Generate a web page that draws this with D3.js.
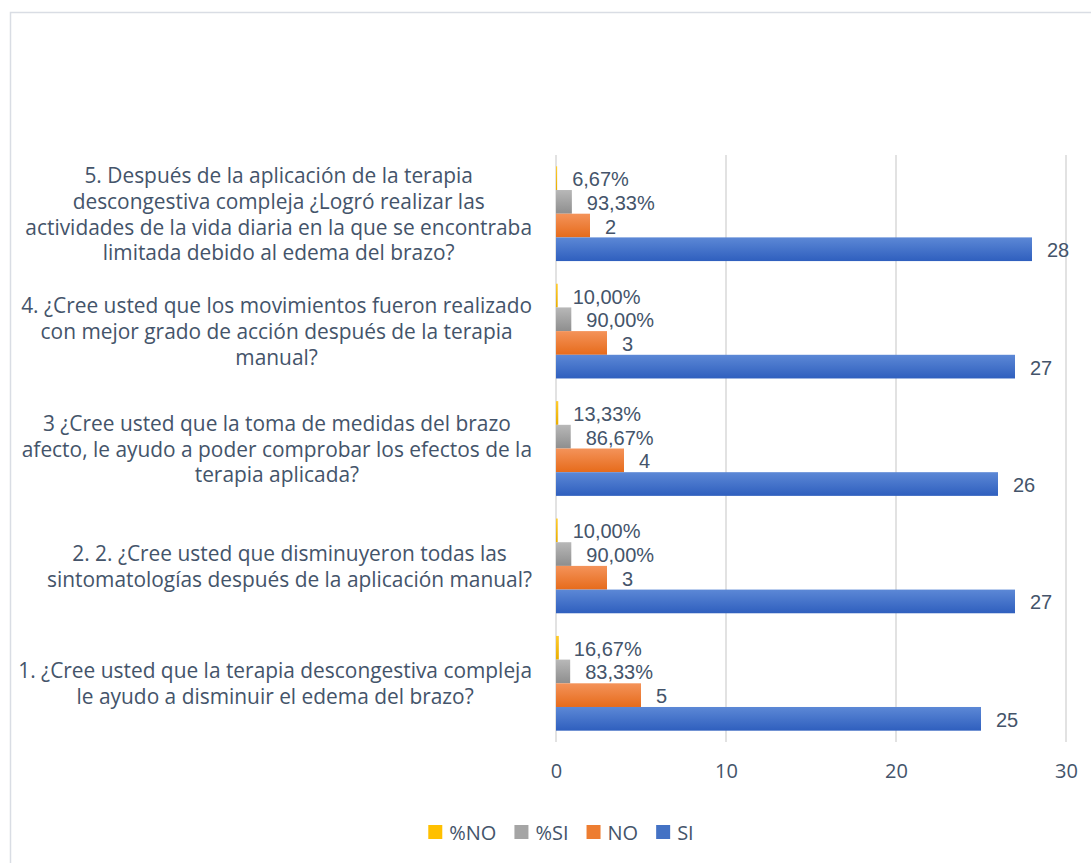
<!DOCTYPE html>
<html><head><meta charset="utf-8">
<script src="https://cdn.jsdelivr.net/npm/d3@7"></script>
<style>
html,body{margin:0;padding:0;background:#fff;}
svg{display:block;}
text{font-family:"Open Sans","Noto Sans",sans-serif;fill:#44546A;}
text.dl{font-family:"Liberation Sans","Arial",sans-serif;}
</style></head><body>
<svg id="chart" width="1091" height="863"></svg>
<script>
const categories = [
  ["5. Después de la aplicación de la terapia","descongestiva compleja ¿Logró realizar las","actividades de la vida diaria en la que se encontraba","limitada debido al edema del brazo?"],
  ["4. ¿Cree usted que los movimientos fueron realizado","con mejor grado de acción después de la terapia","manual?"],
  ["3 ¿Cree usted que la toma de medidas del brazo","afecto, le ayudo a poder comprobar los efectos de la","terapia aplicada?"],
  ["2. 2. ¿Cree usted que disminuyeron todas las","sintomatologías después de la aplicación manual?"],
  ["1. ¿Cree usted que la terapia descongestiva compleja","le ayudo a disminuir el edema del brazo?"]
];
const catKeys = ["5","4","3","2","1"];
const seriesNames = ["%NO","%SI","NO","SI"];
const pctNO = [0.0667, 0.10, 0.1333, 0.10, 0.1667];
const pctSI = [0.9333, 0.90, 0.8667, 0.90, 0.8333];
const valNO = [2, 3, 4, 3, 5];
const valSI = [28, 27, 26, 27, 25];
const xTicks = [0, 10, 20, 30];

const seriesValues = {"%NO": pctNO, "%SI": pctSI, "NO": valNO, "SI": valSI};
const colors = {
  "%NO": ["#ffcb2e", "#e8ad00"],
  "%SI": ["#b8b8b8", "#8e8e8e"],
  "NO":  ["#f4935a", "#e66b1b"],
  "SI":  ["#5c88d6", "#2f5fbe"]
};
const legendColors = {"%NO":"#ffc000","%SI":"#a5a5a5","NO":"#ed7d31","SI":"#4472c4"};
const FS = 20;

const svg = d3.select("#chart");
const defs = svg.append("defs");
seriesNames.forEach((s,i)=>{
  const g = defs.append("linearGradient").attr("id","grad"+i).attr("x1",0).attr("y1",0).attr("x2",0).attr("y2",1);
  g.append("stop").attr("offset","0%").attr("stop-color",colors[s][0]);
  g.append("stop").attr("offset","100%").attr("stop-color",colors[s][1]);
});

// outer border
svg.append("rect").attr("x",10.5).attr("y",12.5).attr("width",1200).attr("height",1000)
  .attr("fill","none").attr("stroke","#d9dde4").attr("stroke-width",1.5);

const x = d3.scaleLinear().domain([0,30]).range([556,1066]);
const y0 = d3.scaleBand().domain(catKeys).range([155,742]).paddingInner(0.193).paddingOuter(0.0965);
const y1 = d3.scaleBand().domain(seriesNames).range([0,y0.bandwidth()]);

// gridlines
svg.append("g").selectAll("line").data(xTicks).join("line")
  .attr("x1",d=>x(d)).attr("x2",d=>x(d)).attr("y1",155).attr("y2",742)
  .attr("stroke","#d9d9d9").attr("stroke-width",1.5);

// x axis labels
const xAxis = d3.axisBottom(x).tickValues(xTicks).tickSize(0).tickPadding(0);
const ax = svg.append("g").attr("transform","translate(0,764)").call(xAxis);
ax.select(".domain").remove();
ax.selectAll("text").attr("font-size",FS).attr("fill","#44546A").style("font-family","Open Sans");

const fmtPct = v => d3.format(".2f")(v*100).replace(".",",")+"%";

// bars
const groups = svg.append("g").selectAll("g").data(catKeys).join("g")
  .attr("transform",d=>`translate(0,${y0(d)})`);
groups.each(function(k,ci){
  const g = d3.select(this);
  seriesNames.forEach((s,si)=>{
    const v = seriesValues[s][ci];
    g.append("rect").attr("x",x(0)).attr("y",y1(s)).attr("width",x(v)-x(0)).attr("height",y1.bandwidth())
      .attr("fill",`url(#grad${si})`);
    g.append("text").attr("class","dl").attr("x",x(v)+15).attr("y",y1(s)+y1.bandwidth()/2+1)
      .attr("dominant-baseline","central").attr("font-size",FS)
      .text(s.startsWith("%") ? fmtPct(v) : v);
  });
});

// category labels
const lineH = 25.7;
catKeys.forEach((k,ci)=>{
  const lines = categories[ci];
  const cy = y0(k)+y0.bandwidth()/2;
  const g = svg.append("g");
  const texts = g.selectAll("text").data(lines).join("text")
    .attr("text-anchor","middle").attr("x",0)
    .attr("y",(d,i)=>cy+(i-(lines.length-1)/2)*lineH)
    .attr("dominant-baseline","central").attr("font-size",20.9).text(d=>d);
  let maxW = 0;
  texts.each(function(){maxW=Math.max(maxW,this.getComputedTextLength());});
  g.attr("transform",`translate(${532-maxW/2},0)`);
});

// legend
const lg = svg.append("g");
let cx = 0;
seriesNames.forEach(s=>{
  lg.append("rect").attr("x",cx).attr("y",-7).attr("width",14).attr("height",14).attr("fill",legendColors[s]);
  const t = lg.append("text").attr("x",cx+21).attr("y",0).attr("dominant-baseline","central").attr("font-size",FS).text(s);
  cx += 21 + t.node().getComputedTextLength() + 18;
});
cx -= 18;
lg.attr("transform",`translate(${561-cx/2},832)`);
</script>
</body></html>
